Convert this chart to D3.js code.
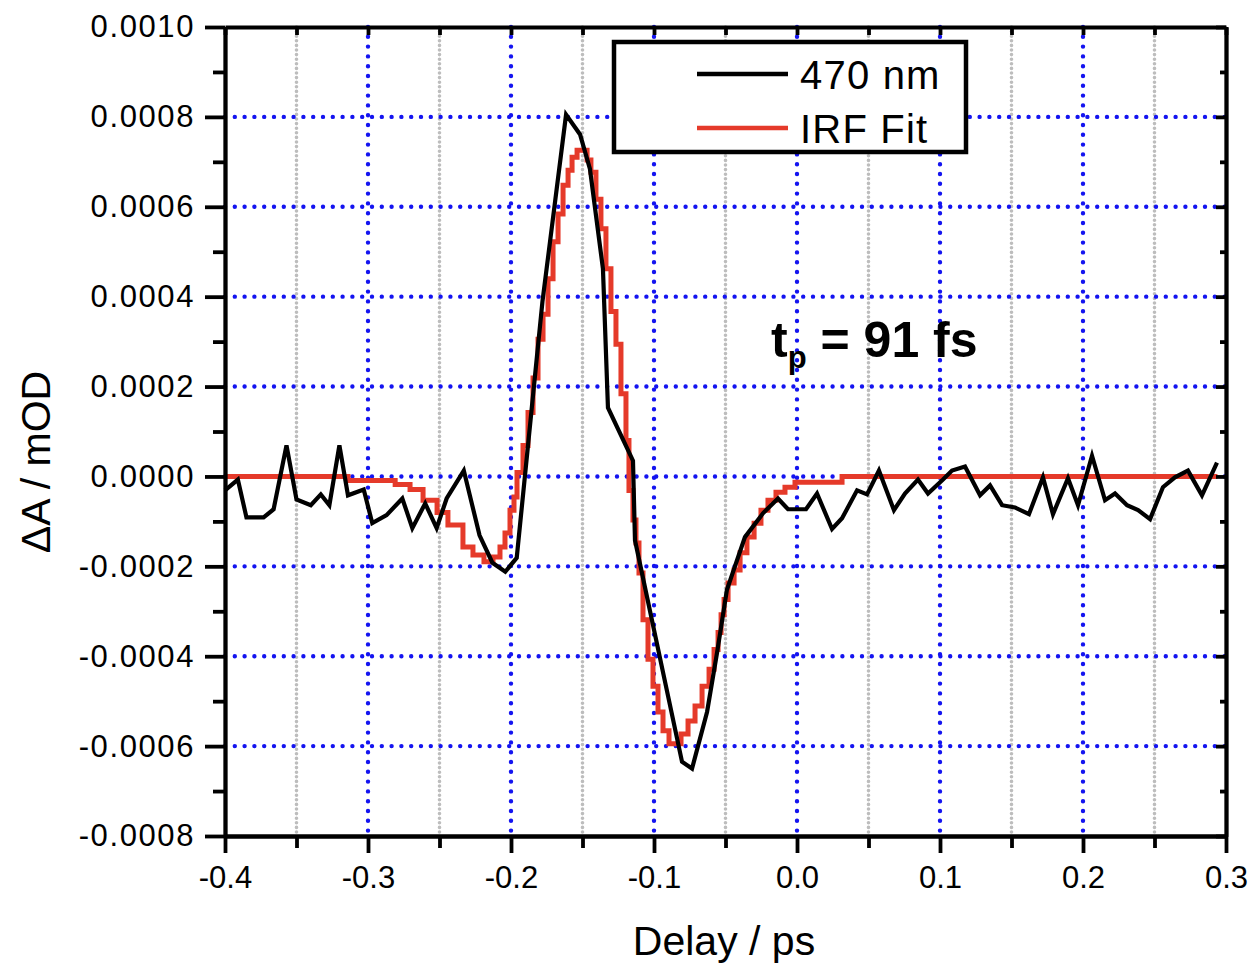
<!DOCTYPE html>
<html>
<head>
<meta charset="utf-8">
<script src="https://cdn.jsdelivr.net/npm/d3@7"></script>
<style>
  body { margin: 0; background: #fff; }
  svg text { font-family: "Liberation Sans", Arial, sans-serif; fill: #000; }
</style>
</head>
<body>
<div id="chart"></div>
<script>
// 470 nm trace (delay in ps, dA in OD)
const delay470 = [-0.400, -0.391, -0.385, -0.373, -0.366, -0.357, -0.350, -0.340, -0.333, -0.327,
  -0.320, -0.314, -0.303, -0.297, -0.287, -0.276, -0.269, -0.260, -0.252, -0.245,
  -0.233, -0.222, -0.213, -0.204, -0.196, -0.178, -0.1615, -0.1517, -0.1448, -0.1357,
  -0.1322, -0.1147, -0.1133, -0.0804, -0.0734, -0.0629, -0.0559, -0.0490, -0.0364, -0.0238,
  -0.0133, -0.0063, 0.0063, 0.0140, 0.0245, 0.0315, 0.0420, 0.0490, 0.0573, 0.0678,
  0.0755, 0.0846, 0.0916, 0.1021, 0.1084, 0.1175, 0.1280, 0.1350, 0.1434, 0.1524,
  0.1622, 0.1720, 0.1790, 0.1895, 0.1965, 0.2063, 0.2154, 0.2224, 0.2308, 0.2385,
  0.2469, 0.2559, 0.2643, 0.2734, 0.2832, 0.2937];
const signal470 = [-0.31e-4, -0.07e-4, -0.91e-4, -0.91e-4, -0.73e-4, 0.69e-4, -0.51e-4, -0.64e-4, -0.40e-4, -0.64e-4,
  0.69e-4, -0.42e-4, -0.29e-4, -1.04e-4, -0.86e-4, -0.49e-4, -1.15e-4, -0.60e-4, -1.15e-4, -0.49e-4,
  0.13e-4, -1.31e-4, -1.92e-4, -2.12e-4, -1.81e-4, 3.89e-4, 8.05e-4, 7.61e-4, 6.84e-4, 4.62e-4,
  1.53e-4, 0.35e-4, -1.42e-4, -6.35e-4, -6.50e-4, -5.24e-4, -3.92e-4, -2.52e-4, -1.35e-4, -0.82e-4,
  -0.49e-4, -0.73e-4, -0.73e-4, -0.38e-4, -1.17e-4, -0.93e-4, -0.31e-4, -0.40e-4, 0.13e-4, -0.75e-4,
  -0.38e-4, -0.07e-4, -0.38e-4, -0.07e-4, 0.13e-4, 0.22e-4, -0.42e-4, -0.20e-4, -0.64e-4, -0.69e-4,
  -0.84e-4, -0.02e-4, -0.84e-4, -0.04e-4, -0.64e-4, 0.46e-4, -0.53e-4, -0.38e-4, -0.64e-4, -0.75e-4,
  -0.95e-4, -0.24e-4, -0.02e-4, 0.13e-4, -0.42e-4, 0.31e-4];

// IRF fit, drawn as steps
const delayFit = [-0.400, -0.314, -0.281, -0.2706, -0.2615, -0.2517, -0.2441, -0.2336, -0.2266, -0.2189,
  -0.2126, -0.2077, -0.2042, -0.2007, -0.1979, -0.1958, -0.1916, -0.1881, -0.1846, -0.1811,
  -0.1776, -0.1741, -0.1706, -0.1671, -0.1636, -0.1601, -0.1573, -0.1538, -0.1468, -0.1441,
  -0.1406, -0.1371, -0.1336, -0.1301, -0.1266, -0.1231, -0.1196, -0.1175, -0.1147, -0.1126,
  -0.1105, -0.1077, -0.1042, -0.1007, -0.0972, -0.0937, -0.0895, -0.0811, -0.0762, -0.0713,
  -0.0664, -0.0615, -0.0580, -0.0552, -0.0531, -0.0510, -0.0482, -0.0440, -0.0398, -0.0350,
  -0.0300, -0.0252, -0.0203, -0.0147, -0.0084, -0.0014, 0.0315, 0.294];
const signalFit = [0, -0.09e-4, -0.18e-4, -0.29e-4, -0.53e-4, -0.80e-4, -1.08e-4, -1.57e-4, -1.75e-4, -1.90e-4,
  -1.79e-4, -1.57e-4, -1.26e-4, -0.75e-4, -0.46e-4, 0.09e-4, 0.69e-4, 1.42e-4, 2.19e-4, 3.05e-4,
  3.61e-4, 4.40e-4, 5.22e-4, 5.84e-4, 6.48e-4, 6.81e-4, 7.10e-4, 7.26e-4, 7.04e-4, 6.77e-4,
  6.17e-4, 5.51e-4, 4.62e-4, 3.67e-4, 2.94e-4, 1.84e-4, 0.80e-4, -0.31e-4, -0.97e-4, -1.48e-4,
  -2.15e-4, -3.19e-4, -4.07e-4, -4.67e-4, -5.24e-4, -5.66e-4, -5.95e-4, -5.73e-4, -5.44e-4, -5.11e-4,
  -4.67e-4, -4.29e-4, -3.85e-4, -3.47e-4, -3.08e-4, -2.74e-4, -2.37e-4, -2.08e-4, -1.70e-4, -1.35e-4,
  -1.04e-4, -0.75e-4, -0.53e-4, -0.35e-4, -0.24e-4, -0.13e-4, 0, 0];

const xTicks = [-0.4, -0.3, -0.2, -0.1, 0.0, 0.1, 0.2, 0.3];
const xMinorTicks = [-0.35, -0.25, -0.15, -0.05, 0.05, 0.15, 0.25];
const yTicks = [-0.0008, -0.0006, -0.0004, -0.0002, 0, 0.0002, 0.0004, 0.0006, 0.0008, 0.0010];
const yMinorTicks = [-0.0007, -0.0005, -0.0003, -0.0001, 0.0001, 0.0003, 0.0005, 0.0007, 0.0009];

const seriesNames = ["470 nm", "IRF Fit"];
const seriesColors = ["#000000", "#e53a2a"];

function drawChart() {
  const width = 1251;
  const height = 965;
  const margin = { top: 27, right: 25, bottom: 129, left: 225 };
  const innerW = width - margin.left - margin.right;
  const innerH = height - margin.top - margin.bottom;

  const svg = d3.select("#chart")
    .append("svg")
    .attr("width", width)
    .attr("height", height);

  const g = svg.append("g")
    .attr("transform", `translate(${margin.left}, ${margin.top})`);

  const x = d3.scaleLinear().domain([-0.4, 0.3]).range([0, innerW]);
  const y = d3.scaleLinear().domain([-0.0008, 0.0010]).range([innerH, 0]);

  // minor grid (grey, vertical only)
  g.append("g")
    .selectAll("line")
    .data(xMinorTicks)
    .join("line")
    .attr("x1", d => x(d)).attr("x2", d => x(d))
    .attr("y1", 0).attr("y2", innerH)
    .attr("stroke", "#bdbdbd")
    .attr("stroke-width", 3.6)
    .attr("stroke-linecap", "round")
    .attr("stroke-dasharray", "0,4.6");

  // major grid (blue dots)
  const grid = g.append("g")
    .attr("stroke", "#1414f0")
    .attr("stroke-width", 4.4)
    .attr("stroke-linecap", "round")
    .attr("stroke-dasharray", "0,9.8");
  grid.selectAll(".gx")
    .data(xTicks.slice(1, -1))
    .join("line")
    .attr("x1", d => x(d)).attr("x2", d => x(d))
    .attr("y1", 0).attr("y2", innerH);
  grid.selectAll(".gy")
    .data(yTicks.slice(1, -1))
    .join("line")
    .attr("y1", d => y(d)).attr("y2", d => y(d))
    .attr("x1", 0).attr("x2", innerW);

  // data
  const fitLine = d3.line()
    .x(i => x(delayFit[i]))
    .y(i => y(signalFit[i]))
    .curve(d3.curveStepAfter);
  g.append("path")
    .attr("d", fitLine(d3.range(delayFit.length)))
    .attr("fill", "none")
    .attr("stroke", seriesColors[1])
    .attr("stroke-width", 5)
    .attr("stroke-linejoin", "miter");

  const traceLine = d3.line()
    .x(i => x(delay470[i]))
    .y(i => y(signal470[i]));
  g.append("path")
    .attr("d", traceLine(d3.range(delay470.length)))
    .attr("fill", "none")
    .attr("stroke", seriesColors[0])
    .attr("stroke-width", 4.2)
    .attr("stroke-linejoin", "miter");

  // axes
  const fmtX = d => d.toFixed(1);
  const fmtY = d => d.toFixed(4);

  function styleAxis(sel) {
    sel.selectAll("path").attr("stroke", "#000").attr("stroke-width", 3.8);
    sel.selectAll("line").attr("stroke", "#000").attr("stroke-width", 3.8);
  }

  const bottom = g.append("g")
    .attr("transform", `translate(0, ${innerH})`)
    .call(d3.axisBottom(x).tickValues(xTicks).tickFormat(fmtX).tickSize(17).tickSizeOuter(0).tickPadding(13))
    .call(styleAxis);
  bottom.append("g")
    .call(d3.axisBottom(x).tickValues(xMinorTicks).tickFormat("").tickSize(12).tickSizeOuter(0))
    .call(styleAxis);
  bottom.selectAll("text")
    .style("font-size", "31px");

  const left = g.append("g")
    .call(d3.axisLeft(y).tickValues(yTicks).tickFormat(fmtY).tickSize(20).tickSizeOuter(0).tickPadding(10))
    .call(styleAxis);
  left.append("g")
    .call(d3.axisLeft(y).tickValues(yMinorTicks).tickFormat("").tickSize(12).tickSizeOuter(0))
    .call(styleAxis);
  left.selectAll("text")
    .style("font-size", "31px")
    .style("letter-spacing", "1.6px");

  g.append("g")
    .call(d3.axisTop(x).tickValues(xTicks).tickFormat("").tickSize(-10).tickSizeOuter(0))
    .call(d3.axisTop(x).tickValues(xTicks.concat(xMinorTicks)).tickFormat("").tickSize(-8).tickSizeOuter(0))
    .call(styleAxis);

  g.append("g")
    .attr("transform", `translate(${innerW}, 0)`)
    .call(d3.axisRight(y).tickValues(yTicks).tickFormat("").tickSize(-10).tickSizeOuter(0))
    .call(styleAxis);
  g.append("g")
    .attr("transform", `translate(${innerW}, 0)`)
    .call(d3.axisRight(y).tickValues(yMinorTicks).tickFormat("").tickSize(-6).tickSizeOuter(0))
    .call(styleAxis);

  // axis titles
  svg.append("text")
    .attr("x", 724)
    .attr("y", 955)
    .attr("text-anchor", "middle")
    .style("font-size", "41px")
    .text("Delay / ps");

  svg.append("text")
    .attr("transform", "translate(50, 462) rotate(-90)")
    .attr("text-anchor", "middle")
    .style("font-size", "41px")
    .text("\u0394A / mOD");

  // annotation
  const note = svg.append("text")
    .attr("x", 771)
    .attr("y", 357)
    .style("font-size", "50px")
    .style("font-weight", "bold");
  note.append("tspan").text("t");
  note.append("tspan").style("font-size", "31px").attr("dy", 11).text("p");
  note.append("tspan").attr("dy", -11).text(" = 91 fs");

  // legend
  const legend = svg.append("g");
  legend.append("rect")
    .attr("x", 614).attr("y", 42)
    .attr("width", 352).attr("height", 110)
    .attr("fill", "#fff")
    .attr("stroke", "#000")
    .attr("stroke-width", 4.5);
  seriesNames.forEach((name, i) => {
    const ly = 74 + i * 54;
    legend.append("line")
      .attr("x1", 697).attr("x2", 788)
      .attr("y1", ly).attr("y2", ly)
      .attr("stroke", seriesColors[i])
      .attr("stroke-width", 4.5);
    legend.append("text")
      .attr("x", 800)
      .attr("y", ly + 15)
      .style("font-size", "40px")
      .style("letter-spacing", "1.2px")
      .text(name);
  });
}

drawChart();
</script>
</body>
</html>
